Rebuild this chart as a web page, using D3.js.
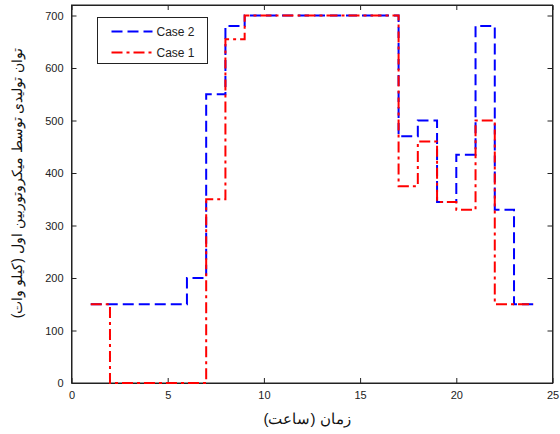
<!DOCTYPE html>
<html>
<head>
  <meta charset="utf-8">
  <script src="https://d3js.org/d3.v7.min.js"></script>
  <style>
    body { margin: 0; background: #fff; }
    text { font-family: "Liberation Sans", Arial, sans-serif; }
  </style>
</head>
<body>
  <div id="chart"></div>
  <script>
    // data: value holds from hour h to h+1
    var hours = [1, 2, 3, 4, 5, 6, 7, 8, 9, 10, 11, 12, 13, 14, 15, 16, 17, 18, 19, 20, 21, 22, 23, 24];
    var case2 = [150, 150, 150, 150, 150, 200, 550, 680, 700, 700, 700, 700, 700, 700, 700, 700, 470, 500, 345, 435, 680, 330, 150, 150];
    var case1 = [150, 0, 0, 0, 0, 0, 350, 655, 700, 700, 700, 700, 700, 700, 700, 700, 375, 460, 345, 330, 500, 150, 150, 150];
    var xTicks = [0, 5, 10, 15, 20, 25];
    var yTicks = [0, 100, 200, 300, 400, 500, 600, 700];

    var W = 560, H = 434;
    var margin = { top: 5, right: 7.5, bottom: 51, left: 71.5 };
    var width = W - margin.left - margin.right,
      height = H - margin.top - margin.bottom;

    var svg = d3.select("#chart").append("svg")
      .attr("width", W)
      .attr("height", H);
    var g = svg.append("g")
      .attr("transform", "translate(" + margin.left + "," + margin.top + ")");

    var x = d3.scaleLinear().domain([0, 25]).range([0, width]);
    var y = d3.scaleLinear().domain([0, 720]).range([height, 0]);

    // axes, MATLAB style: ticks point inward, box all round
    var tickLen = 5;
    g.append("g")
      .attr("transform", "translate(0," + height + ")")
      .call(d3.axisBottom(x).tickValues(xTicks).tickSizeInner(-tickLen).tickSizeOuter(0).tickPadding(8));
    g.append("g")
      .call(d3.axisTop(x).tickValues(xTicks).tickSizeInner(-tickLen).tickSizeOuter(0).tickFormat(""));
    g.append("g")
      .call(d3.axisLeft(y).tickValues(yTicks).tickSizeInner(-tickLen).tickSizeOuter(0).tickPadding(8));
    g.append("g")
      .attr("transform", "translate(" + width + ",0)")
      .call(d3.axisRight(y).tickValues(yTicks).tickSizeInner(-tickLen).tickSizeOuter(0).tickFormat(""));

    g.selectAll(".domain").attr("stroke", "#222");
    g.selectAll(".tick line").attr("stroke", "#222");
    g.selectAll(".tick text").attr("font-size", 11).attr("fill", "#222")
      .attr("font-family", "Liberation Sans, Arial, sans-serif");

    g.append("rect")
      .attr("width", width).attr("height", height)
      .attr("fill", "none").attr("stroke", "#222").attr("stroke-width", 1);

    var line = d3.line()
      .x(function (d) { return x(d[0]); })
      .y(function (d) { return y(d[1]); })
      .curve(d3.curveStepAfter);

    var series = [
      { name: "Case 2", values: case2, color: "#0000ff", dash: "11,5" },
      { name: "Case 1", values: case1, color: "#ff0000", dash: "11,4,3,4" }
    ];

    series.forEach(function (s) {
      g.append("path")
        .datum(hours.map(function (h, i) { return [h, s.values[i]]; }))
        .attr("fill", "none")
        .attr("stroke", s.color)
        .attr("stroke-width", 2)
        .attr("stroke-dasharray", s.dash)
        .attr("d", line);
    });

    // legend
    var lg = svg.append("g").attr("transform", "translate(97.5,17.5)");
    lg.append("rect")
      .attr("width", 110).attr("height", 46)
      .attr("fill", "#fff").attr("stroke", "#222");
    series.forEach(function (s, i) {
      var yy = 14 + i * 21;
      lg.append("line")
        .attr("x1", 14).attr("x2", 55)
        .attr("y1", yy).attr("y2", yy)
        .attr("stroke", s.color).attr("stroke-width", 2)
        .attr("stroke-dasharray", s.dash);
      lg.append("text")
        .attr("x", 59).attr("y", yy + 4)
        .attr("font-size", 12).attr("fill", "#222")
        .text(s.name);
    });

    // axis titles (Persian)
    svg.append("text")
      .attr("x", 307)
      .attr("y", 424)
      .attr("text-anchor", "middle")
      .attr("font-size", 15)
      .attr("font-family", "DejaVu Sans, sans-serif")
      .attr("direction", "rtl")
      .attr("fill", "#111")
      .text("زمان (ساعت)");

    svg.append("text")
      .attr("transform", "translate(22,183) rotate(-90)")
      .attr("text-anchor", "middle")
      .attr("font-size", 14)
      .attr("font-family", "DejaVu Sans, sans-serif")
      .attr("fill", "#111")
      .text("توان تولیدی توسط میکروتوربین اول (کیلو وات)");
  </script>
</body>
</html>
